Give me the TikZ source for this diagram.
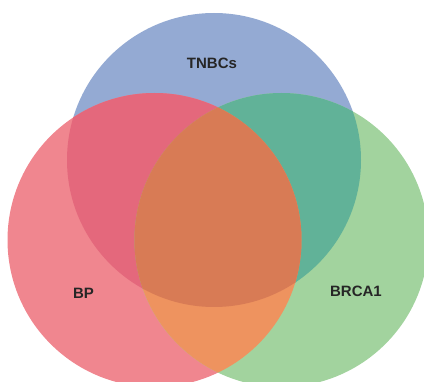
\documentclass[tikz,border=0pt]{standalone}
\usepackage{fontspec}
\setmainfont{Liberation Sans}
\definecolor{cB}{RGB}{148,170,211}
\definecolor{cR}{RGB}{240,134,143}
\definecolor{cG}{RGB}{162,211,158}
\definecolor{cBR}{RGB}{228,104,124}
\definecolor{cBG}{RGB}{97,178,152}
\definecolor{cRG}{RGB}{238,147,95}
\definecolor{cBRG}{RGB}{216,123,85}
\begin{document}
\begin{tikzpicture}[x=1pt,y=-1pt,
  lbl/.style={font=\fontsize{15}{18}\selectfont\bfseries, text=black!85, inner sep=0pt}]
\useasboundingbox (0,0) rectangle (424,382);
\def\rad{147}
\coordinate (cb) at (214,160);
\coordinate (cr) at (154.5,240);
\coordinate (cg) at (281.5,240);
\begin{scope}
\clip (0,0) rectangle (424,382);
\fill[cB] (cb) circle[radius=\rad];
\fill[cR] (cr) circle[radius=\rad];
\fill[cG] (cg) circle[radius=\rad];
\begin{scope}
  \clip (cb) circle[radius=\rad];
  \fill[cBR] (cr) circle[radius=\rad];
  \fill[cBG] (cg) circle[radius=\rad];
\end{scope}
\begin{scope}
  \clip (cr) circle[radius=\rad];
  \fill[cRG] (cg) circle[radius=\rad];
  \clip (cg) circle[radius=\rad];
  \fill[cBRG] (cb) circle[radius=\rad];
\end{scope}
\end{scope}
\node[lbl] (tnbc) at (212,63) {TNBCs};
\node[lbl] (bp) at (83.5,293) {BP};
\node[lbl] (brca) at (356,291) {BRCA1};
\end{tikzpicture}
\end{document}
